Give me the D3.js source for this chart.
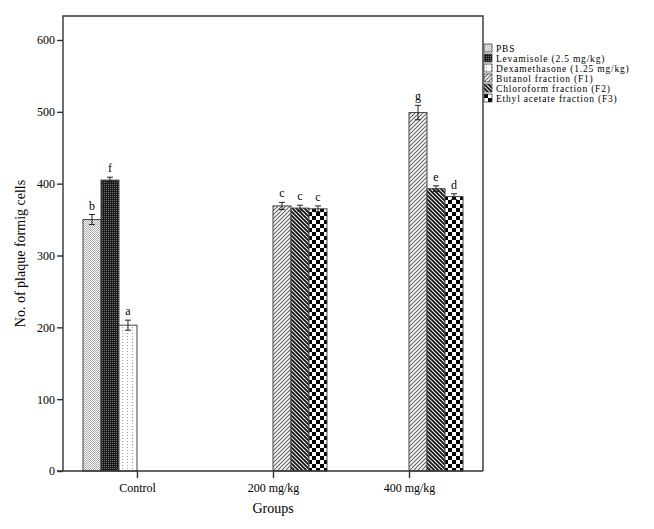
<!DOCTYPE html>
<html lang="en">
<head>
<meta charset="utf-8">
<title>Plaque forming cells</title>
<script src="https://cdn.jsdelivr.net/npm/d3@7"></script>
<style>
  body { margin: 0; background: #fff; }
  svg { font-family: "Liberation Serif", "Times New Roman", serif; }
  .frame { fill: none; stroke: #333; stroke-width: 1.4px; }
  .axis path, .axis line { stroke: #333; stroke-width: 1.4px; }
  .axis text { font-family: "Liberation Serif", "Times New Roman", serif; font-size: 12px; fill: #000; }
  .bar { stroke: #444; stroke-width: 1px; }
  .err { stroke: #222; stroke-width: 1px; fill: none; }
  .sig { font-size: 12px; fill: #000; text-anchor: middle; }
  .legend text { font-size: 9.5px; letter-spacing: 0.8px; fill: #000; }
</style>
</head>
<body>
<div id="chart"></div>
<script>
// data
var groups = ["Control", "200 mg/kg", "400 mg/kg"];
var series = ["PBS", "Levamisole (2.5 mg/kg)", "Dexamethasone (1.25 mg/kg)",
              "Butanol fraction (F1)", "Chloroform fraction (F2)", "Ethyl acetate fraction (F3)"];
var barGroup  = ["Control", "Control", "Control", "200 mg/kg", "200 mg/kg", "200 mg/kg", "400 mg/kg", "400 mg/kg", "400 mg/kg"];
var barSeries = [0, 1, 2, 3, 4, 5, 3, 4, 5];
var barValue  = [350, 405, 203, 369, 366, 365, 499, 393, 382];
var barError  = [7, 4, 7, 5, 4, 4, 10, 4, 4];
var barLetter = ["b", "f", "a", "c", "c", "c", "g", "e", "d"];
var yTicks = [0, 100, 200, 300, 400, 500, 600];

var W = 654, H = 529;
var plotL = 63, plotR = 483, plotT = 16, plotB = 471;

var svg = d3.select("#chart").append("svg")
    .attr("width", W).attr("height", H);

// fill patterns
var defs = svg.append("defs");
function pat(id, w, h, bg) {
  var p = defs.append("pattern").attr("id", id)
      .attr("patternUnits", "userSpaceOnUse")
      .attr("width", w).attr("height", h);
  p.append("rect").attr("width", w).attr("height", h).attr("fill", bg);
  return p;
}
var p0 = pat("p0", 2, 2, "#fff");
p0.append("rect").attr("x", 0).attr("y", 0).attr("width", 1).attr("height", 1).attr("fill", "#aaa");
p0.append("rect").attr("x", 1).attr("y", 1).attr("width", 1).attr("height", 1).attr("fill", "#aaa");

var p1 = pat("p1", 2, 2, "#1a1a1a");
p1.append("rect").attr("x", 0).attr("y", 0).attr("width", 1).attr("height", 1).attr("fill", "#777");

var p2 = pat("p2", 5, 3, "#fff");
p2.append("rect").attr("x", 2).attr("y", 0).attr("width", 1).attr("height", 1).attr("fill", "#999");

var p3 = pat("p3", 4, 4, "#fff");
p3.append("path").attr("d", "M0,4L4,0M-1,1L1,-1M3,5L5,3")
    .attr("stroke", "#666").attr("stroke-width", 1.2);

var p4 = pat("p4", 4, 4, "#fff");
p4.append("path").attr("d", "M0,0L4,4M-1,3L1,5M3,-1L5,1")
    .attr("stroke", "#111").attr("stroke-width", 1.9);

var p5 = pat("p5", 8, 8, "#fff");
p5.append("rect").attr("x", 0).attr("y", 0).attr("width", 4).attr("height", 4).attr("fill", "#000");
p5.append("rect").attr("x", 4).attr("y", 4).attr("width", 4).attr("height", 4).attr("fill", "#000");

var fills = ["url(#p0)", "url(#p1)", "url(#p2)", "url(#p3)", "url(#p4)", "url(#p5)"];

// scales
var x = d3.scalePoint().domain(groups).range([plotL, plotR]).padding(0.544);
var xs = d3.scaleBand().domain(d3.range(series.length)).range([-54, 54]);
var y = d3.scaleLinear().domain([0, 600]).range([plotB, 40]);

// frame
svg.append("path").attr("class", "frame")
    .attr("d", "M" + plotL + "," + plotB + "V" + plotT + "H" + plotR + "V" + plotB);

// bars
var bars = d3.range(barValue.length);
svg.selectAll(".bar").data(bars).enter().append("rect")
    .attr("class", "bar")
    .attr("x", function(i) { return x(barGroup[i]) + xs(barSeries[i]); })
    .attr("width", xs.bandwidth())
    .attr("y", function(i) { return y(barValue[i]); })
    .attr("height", function(i) { return y(0) - y(barValue[i]); })
    .attr("fill", function(i) { return fills[barSeries[i]]; });

// error bars
var eb = svg.selectAll(".errg").data(bars).enter().append("g");
eb.append("path").attr("class", "err")
    .attr("d", function(i) {
      var cx = x(barGroup[i]) + xs(barSeries[i]) + xs.bandwidth() / 2;
      var y1 = y(barValue[i] + barError[i]), y2 = y(barValue[i] - barError[i]);
      return "M" + cx + "," + y1 + "V" + y2 +
             "M" + (cx - 3) + "," + y1 + "H" + (cx + 3) +
             "M" + (cx - 3) + "," + y2 + "H" + (cx + 3);
    });
eb.append("text").attr("class", "sig")
    .attr("x", function(i) { return x(barGroup[i]) + xs(barSeries[i]) + xs.bandwidth() / 2; })
    .attr("y", function(i) { return y(barValue[i] + barError[i]) - 5; })
    .text(function(i) { return barLetter[i]; });

// axes
svg.append("g").attr("class", "axis")
    .attr("transform", "translate(" + plotL + ",0)")
    .call(d3.axisLeft(y).tickValues(yTicks).tickSize(6).tickPadding(2))
    .call(function(g) { g.select(".domain").remove(); });

svg.append("g").attr("class", "axis")
    .attr("transform", "translate(0," + plotB + ")")
    .call(d3.axisBottom(x).tickSize(7).tickPadding(5).tickSizeOuter(0))
    .call(function(g) {
      g.select(".domain").attr("d", "M" + (plotL - 6) + ",0H" + plotR);
    });

// axis titles
svg.append("text")
    .attr("transform", "translate(25," + ((plotT + plotB) / 2 + 10) + ") rotate(-90)")
    .attr("text-anchor", "middle")
    .style("font-size", "14px")
    .text("No. of plaque formig cells");

svg.append("text")
    .attr("x", x("200 mg/kg"))
    .attr("y", 513)
    .attr("text-anchor", "middle")
    .style("font-size", "14px")
    .text("Groups");

// legend
var lg = svg.append("g").attr("class", "legend")
    .attr("transform", "translate(" + (plotR + 1) + ",44)");
var li = lg.selectAll("g").data(series).enter().append("g")
    .attr("transform", function(d, i) { return "translate(0," + (i * 10) + ")"; });
li.append("rect")
    .attr("width", 8).attr("height", 8)
    .attr("fill", function(d, i) { return fills[i]; })
    .attr("stroke", "#444").attr("stroke-width", 0.8);
li.append("text").attr("x", 12).attr("y", 7.5).text(function(d) { return d; });
</script>
</body>
</html>
